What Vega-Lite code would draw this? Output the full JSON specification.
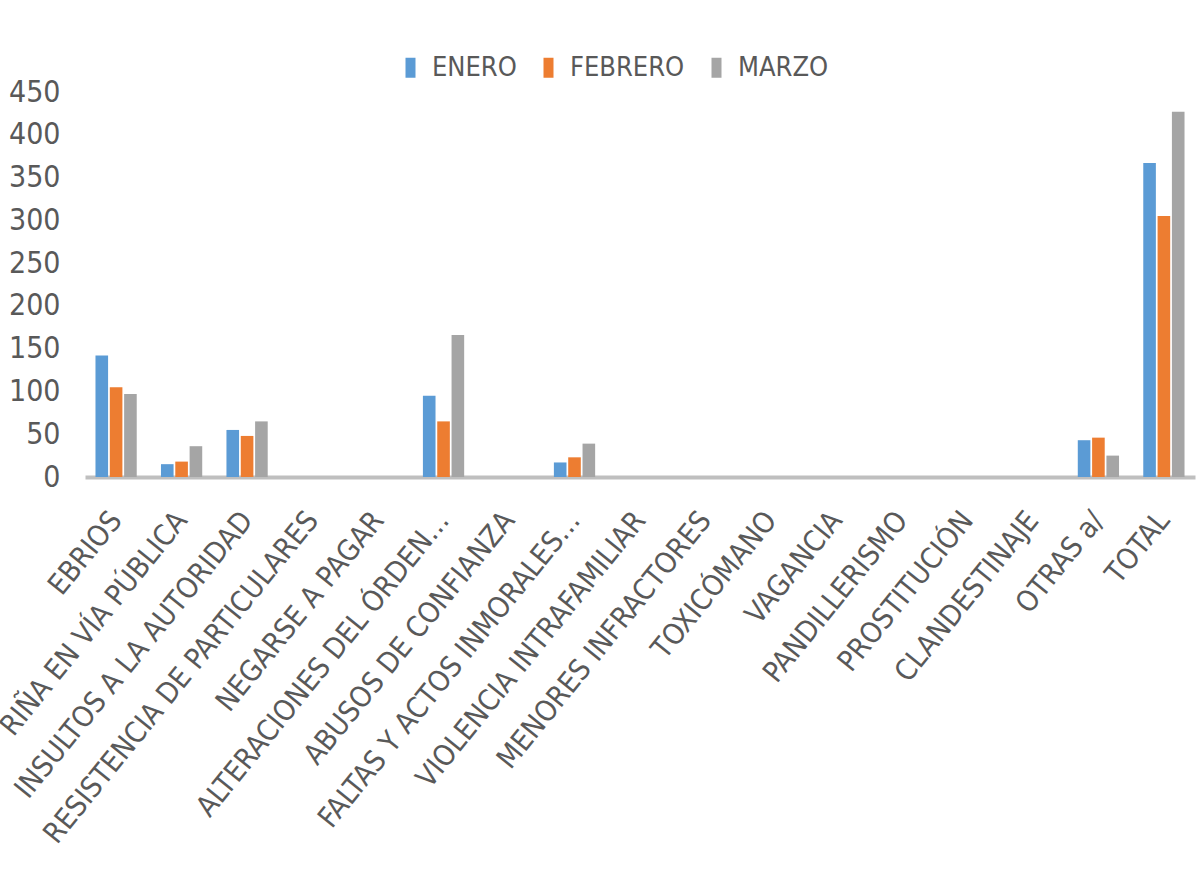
{
  "$schema": "https://vega.github.io/schema/vega-lite/v6.json",
  "autosize": {"type": "none"},
  "width": 1110,
  "height": 385,
  "padding": {"left": 85, "top": 92, "right": 4, "bottom": 401},
  "background": "white",
  "config": {
    "view": {"stroke": "transparent"},
    "font": "DejaVu Sans Condensed, sans-serif"
  },
  "data": {
    "values": [
      {"categoria": "EBRIOS", "mes": "ENERO", "valor": 142},
      {"categoria": "EBRIOS", "mes": "FEBRERO", "valor": 105},
      {"categoria": "EBRIOS", "mes": "MARZO", "valor": 97},
      {"categoria": "RIÑA EN VÍA PÚBLICA", "mes": "ENERO", "valor": 15},
      {"categoria": "RIÑA EN VÍA PÚBLICA", "mes": "FEBRERO", "valor": 18},
      {"categoria": "RIÑA EN VÍA PÚBLICA", "mes": "MARZO", "valor": 36},
      {"categoria": "INSULTOS A LA AUTORIDAD", "mes": "ENERO", "valor": 55},
      {"categoria": "INSULTOS A LA AUTORIDAD", "mes": "FEBRERO", "valor": 48},
      {"categoria": "INSULTOS A LA AUTORIDAD", "mes": "MARZO", "valor": 65},
      {"categoria": "RESISTENCIA DE PARTICULARES", "mes": "ENERO", "valor": 0},
      {"categoria": "RESISTENCIA DE PARTICULARES", "mes": "FEBRERO", "valor": 0},
      {"categoria": "RESISTENCIA DE PARTICULARES", "mes": "MARZO", "valor": 0},
      {"categoria": "NEGARSE A PAGAR", "mes": "ENERO", "valor": 0},
      {"categoria": "NEGARSE A PAGAR", "mes": "FEBRERO", "valor": 0},
      {"categoria": "NEGARSE A PAGAR", "mes": "MARZO", "valor": 0},
      {"categoria": "ALTERACIONES DEL ÓRDEN…", "mes": "ENERO", "valor": 95},
      {"categoria": "ALTERACIONES DEL ÓRDEN…", "mes": "FEBRERO", "valor": 65},
      {"categoria": "ALTERACIONES DEL ÓRDEN…", "mes": "MARZO", "valor": 166},
      {"categoria": "ABUSOS DE CONFIANZA", "mes": "ENERO", "valor": 0},
      {"categoria": "ABUSOS DE CONFIANZA", "mes": "FEBRERO", "valor": 0},
      {"categoria": "ABUSOS DE CONFIANZA", "mes": "MARZO", "valor": 0},
      {"categoria": "FALTAS Y ACTOS INMORALES…", "mes": "ENERO", "valor": 17},
      {"categoria": "FALTAS Y ACTOS INMORALES…", "mes": "FEBRERO", "valor": 23},
      {"categoria": "FALTAS Y ACTOS INMORALES…", "mes": "MARZO", "valor": 39},
      {"categoria": "VIOLENCIA INTRAFAMILIAR", "mes": "ENERO", "valor": 0},
      {"categoria": "VIOLENCIA INTRAFAMILIAR", "mes": "FEBRERO", "valor": 0},
      {"categoria": "VIOLENCIA INTRAFAMILIAR", "mes": "MARZO", "valor": 0},
      {"categoria": "MENORES INFRACTORES", "mes": "ENERO", "valor": 0},
      {"categoria": "MENORES INFRACTORES", "mes": "FEBRERO", "valor": 0},
      {"categoria": "MENORES INFRACTORES", "mes": "MARZO", "valor": 0},
      {"categoria": "TOXICÓMANO", "mes": "ENERO", "valor": 0},
      {"categoria": "TOXICÓMANO", "mes": "FEBRERO", "valor": 0},
      {"categoria": "TOXICÓMANO", "mes": "MARZO", "valor": 0},
      {"categoria": "VAGANCIA", "mes": "ENERO", "valor": 0},
      {"categoria": "VAGANCIA", "mes": "FEBRERO", "valor": 0},
      {"categoria": "VAGANCIA", "mes": "MARZO", "valor": 0},
      {"categoria": "PANDILLERISMO", "mes": "ENERO", "valor": 0},
      {"categoria": "PANDILLERISMO", "mes": "FEBRERO", "valor": 0},
      {"categoria": "PANDILLERISMO", "mes": "MARZO", "valor": 0},
      {"categoria": "PROSTITUCIÓN", "mes": "ENERO", "valor": 0},
      {"categoria": "PROSTITUCIÓN", "mes": "FEBRERO", "valor": 0},
      {"categoria": "PROSTITUCIÓN", "mes": "MARZO", "valor": 0},
      {"categoria": "CLANDESTINAJE", "mes": "ENERO", "valor": 0},
      {"categoria": "CLANDESTINAJE", "mes": "FEBRERO", "valor": 0},
      {"categoria": "CLANDESTINAJE", "mes": "MARZO", "valor": 0},
      {"categoria": "OTRAS a/", "mes": "ENERO", "valor": 43},
      {"categoria": "OTRAS a/", "mes": "FEBRERO", "valor": 46},
      {"categoria": "OTRAS a/", "mes": "MARZO", "valor": 25},
      {"categoria": "TOTAL", "mes": "ENERO", "valor": 367},
      {"categoria": "TOTAL", "mes": "FEBRERO", "valor": 305},
      {"categoria": "TOTAL", "mes": "MARZO", "valor": 427}
    ]
  },
  "mark": {"type": "bar"},
  "encoding": {
    "x": {
      "field": "categoria",
      "type": "nominal",
      "sort": null,
      "title": null,
      "scale": {"paddingInner": 0.37, "paddingOuter": 0.16},
      "axis": {
        "labelAngle": -51,
        "labelFontSize": 29,
        "labelColor": "#595959",
        "labelPadding": 38,
        "labelLimit": 0,
        "labelOverlap": false,
        "ticks": false,
        "domainColor": "#bfbfbf",
        "domainWidth": 4
      }
    },
    "xOffset": {
      "field": "mes",
      "type": "nominal",
      "sort": ["ENERO", "FEBRERO", "MARZO"],
      "scale": {"paddingInner": 0.12}
    },
    "y": {
      "field": "valor",
      "type": "quantitative",
      "title": null,
      "scale": {"domain": [0, 450], "nice": false},
      "axis": {
        "values": [0, 50, 100, 150, 200, 250, 300, 350, 400, 450],
        "grid": false,
        "domain": false,
        "ticks": false,
        "labelFontSize": 30,
        "labelColor": "#595959",
        "labelPadding": 25
      }
    },
    "color": {
      "field": "mes",
      "type": "nominal",
      "sort": ["ENERO", "FEBRERO", "MARZO"],
      "scale": {
        "domain": ["ENERO", "FEBRERO", "MARZO"],
        "range": ["#5b9bd5", "#ed7d31", "#a5a5a5"]
      },
      "legend": {
        "title": null,
        "orient": "none",
        "direction": "horizontal",
        "legendX": 312,
        "legendY": -38,
        "symbolType": "M-0.5,-1H0.5V1H-0.5Z",
        "symbolSize": 400,
        "symbolStrokeWidth": 0,
        "labelFontSize": 27,
        "labelColor": "#595959",
        "labelOffset": 8,
        "columnPadding": 18
      }
    }
  }
}
